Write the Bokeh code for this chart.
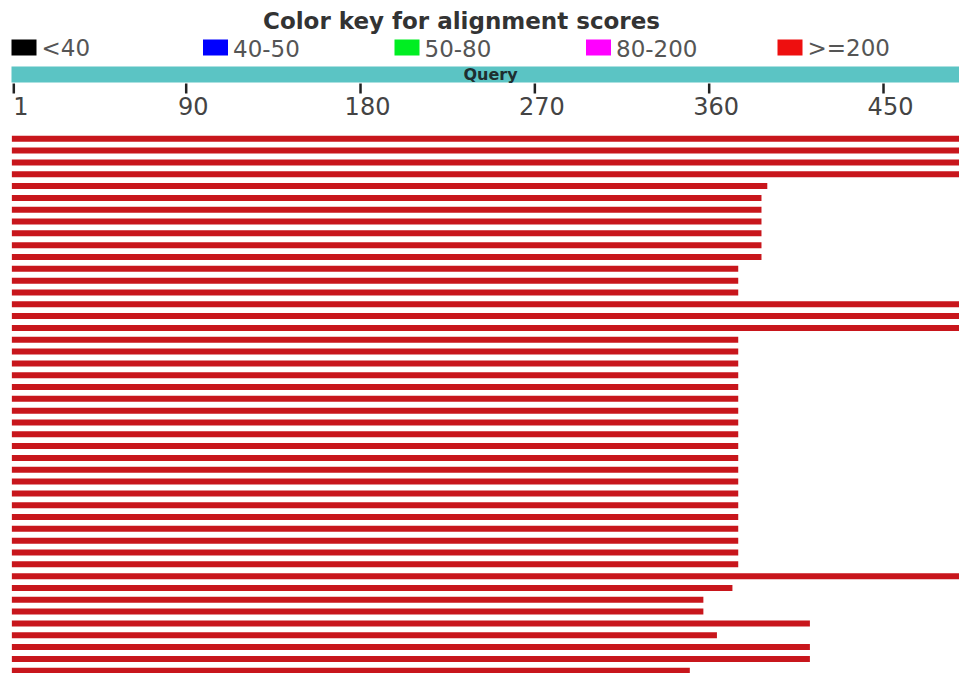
from bokeh.plotting import figure
from bokeh.models import Range1d
from bokeh.core.properties import value
from bokeh.embed import file_html
from bokeh.resources import INLINE

# ---- data ----
score_bins = ["<40", "40-50", "50-80", "80-200", ">=200"]
bin_colors = ["#000000", "#0000ff", "#00ee22", "#ff00ff", "#ee0f0f"]
tick_values = [1, 90, 180, 270, 360, 450]
tick_labels = ["1", "90", "180", "270", "360", "450"]
query_length = 500
hit_ends = [500, 500, 500, 500,
            390,
            387, 387, 387, 387, 387, 387,
            375, 375, 375,
            500, 500, 500,
            375, 375, 375, 375, 375, 375, 375, 375, 375, 375,
            375, 375, 375, 375, 375, 375, 375, 375, 375, 375,
            500,
            372,
            357, 357,
            412,
            364,
            412, 412,
            350,
            500]
hit_starts = [1] * len(hit_ends)

# ---- layout (pixels) ----
W, H = 959, 673
ROW0, ROW_STEP, BAR_H = 138.3, 11.82, 6
row_y = [ROW0 + i * ROW_STEP for i in range(len(hit_ends))]
PX_PER_RES = 1.937
X_AT_1 = 13.3
x_lo = 1 - X_AT_1 / PX_PER_RES
x_hi = 1 + (W - X_AT_1) / PX_PER_RES

p = figure(width=W, height=H, output_backend="svg", toolbar_location=None,
           x_range=Range1d(x_lo, x_hi), y_range=Range1d(H, 0),
           min_border=0, min_border_left=0, min_border_right=0,
           min_border_top=0, min_border_bottom=0)
p.axis.visible = False
p.grid.visible = False
p.outline_line_color = None
p.background_fill_color = "white"
p.border_fill_color = "white"
p.extra_x_ranges = {"px": Range1d(0, W)}

FONT = value("DejaVu Sans")

# title
p.text(x=[461], y=[20], text=["Color key for alignment scores"], x_range_name="px",
       text_align="center", text_baseline="middle", text_font=FONT,
       text_font_size="23px", text_font_style="bold", text_color="#333333")

# color key
sq_left = [11 + i * 191.5 for i in range(len(score_bins))]
p.quad(left=sq_left, right=[x + 25 for x in sq_left], top=[39] * 5, bottom=[55] * 5,
       fill_color=bin_colors, line_color=None, x_range_name="px")
p.text(x=[x + 30 for x in sq_left], y=[47.5] * 5, text=score_bins, x_range_name="px",
       text_align="left", text_baseline="middle", text_font=FONT,
       text_font_size="23px", text_color="#555555")

# query bar
p.quad(left=[11], right=[W], top=[66], bottom=[82], fill_color="#5bc4c4",
       line_color=None, x_range_name="px")
p.text(x=[490], y=[73.5], text=["Query"], x_range_name="px", text_align="center",
       text_baseline="middle", text_font=FONT, text_font_size="16px",
       text_font_style="bold", text_color="#1e2e30")

# ruler
p.segment(x0=tick_values, x1=tick_values, y0=[83] * len(tick_values),
          y1=[93] * len(tick_values), line_color="#222222", line_width=2.5)
p.text(x=tick_values, y=[105.5] * len(tick_values), text=tick_labels, x_offset=7,
       text_align="center", text_baseline="middle", text_font=FONT,
       text_font_size="24px", text_color="#444444")

# hits
p.hbar(y=row_y, left=[s - 1 for s in hit_starts], right=hit_ends, height=BAR_H,
       fill_color="#c8161c", line_color=None)

open("out.html", "w").write(file_html(p, INLINE))
